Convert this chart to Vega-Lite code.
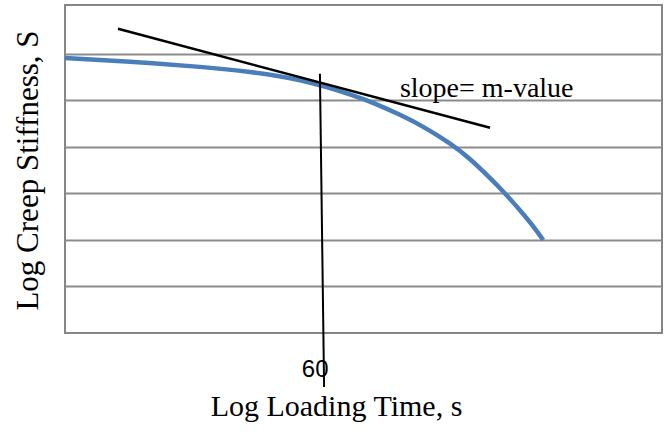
{
  "$schema": "https://vega.github.io/schema/vega-lite/v6.json",
  "width": 597,
  "height": 328,
  "autosize": {"type": "none"},
  "padding": {"left": 65, "top": 5, "right": 3, "bottom": 101},
  "background": "white",
  "config": {
    "view": {"stroke": "#868686", "strokeWidth": 2},
    "axis": {"titleFont": "Liberation Serif", "titleFontWeight": "normal", "titleColor": "#000000"}
  },
  "datasets": {
    "curve": [
      {"t": 0, "s": 5.91},
      {"t": 10.9, "s": 5.83},
      {"t": 22.6, "s": 5.72},
      {"t": 31.0, "s": 5.61},
      {"t": 39.4, "s": 5.43},
      {"t": 47.7, "s": 5.13},
      {"t": 51.9, "s": 4.93},
      {"t": 56.1, "s": 4.69},
      {"t": 60.3, "s": 4.41},
      {"t": 64.5, "s": 4.07},
      {"t": 67.8, "s": 3.74},
      {"t": 71.2, "s": 3.33},
      {"t": 73.7, "s": 3.0},
      {"t": 76.2, "s": 2.64},
      {"t": 78.2, "s": 2.33},
      {"t": 80.1, "s": 2.0}
    ],
    "tangent": [
      {"t": 8.88, "s": 6.54},
      {"t": 71.2, "s": 4.41}
    ],
    "marker": [
      {"t": 42.7, "s": 5.57},
      {"t": 43.4, "s": -1.16}
    ],
    "slopeLabel": [
      {"t": 56.1, "s": 5.08, "text": "slope= m-value"}
    ],
    "timeLabel": [
      {"t": 41.9, "s": -0.95, "text": "60"}
    ]
  },
  "layer": [
    {
      "data": {"name": "curve"},
      "mark": {"type": "line", "color": "#4A7EBB", "strokeWidth": 4.5, "interpolate": "natural"},
      "encoding": {
        "x": {
          "field": "t", "type": "quantitative",
          "scale": {"domain": [0, 100], "nice": false, "zero": false},
          "axis": {
            "title": "Log Loading Time, s",
            "labels": false, "ticks": false, "grid": false, "domain": false,
            "titleFontSize": 30, "titleX": 271, "titleY": 82, "titleBaseline": "alphabetic", "titleAlign": "center"
          }
        },
        "y": {
          "field": "s", "type": "quantitative",
          "scale": {"domain": [0, 7.05], "nice": false, "zero": false},
          "axis": {
            "title": "Log Creep Stiffness, S",
            "values": [1, 2, 3, 4, 5, 6],
            "labels": false, "ticks": false, "domain": false,
            "grid": true, "gridColor": "#8C8C8C", "gridWidth": 2, "gridOpacity": 1,
            "titleFontSize": 31, "titleAngle": -90, "titleX": -37, "titleY": 165,
            "titleBaseline": "middle", "titleAlign": "center"
          }
        }
      }
    },
    {
      "data": {"name": "tangent"},
      "mark": {"type": "line", "color": "#000000", "strokeWidth": 2.5},
      "encoding": {
        "x": {"field": "t", "type": "quantitative"},
        "y": {"field": "s", "type": "quantitative"}
      }
    },
    {
      "data": {"name": "marker"},
      "mark": {"type": "line", "color": "#000000", "strokeWidth": 2, "clip": false},
      "encoding": {
        "x": {"field": "t", "type": "quantitative"},
        "y": {"field": "s", "type": "quantitative"}
      }
    },
    {
      "data": {"name": "slopeLabel"},
      "mark": {"type": "text", "font": "Liberation Serif", "fontSize": 28, "align": "left", "baseline": "alphabetic", "color": "#000000"},
      "encoding": {
        "x": {"field": "t", "type": "quantitative"},
        "y": {"field": "s", "type": "quantitative"},
        "text": {"field": "text"}
      }
    },
    {
      "data": {"name": "timeLabel"},
      "mark": {"type": "text", "font": "Liberation Sans", "fontSize": 24, "align": "center", "baseline": "alphabetic", "color": "#000000", "clip": false},
      "encoding": {
        "x": {"field": "t", "type": "quantitative"},
        "y": {"field": "s", "type": "quantitative"},
        "text": {"field": "text"}
      }
    }
  ]
}
